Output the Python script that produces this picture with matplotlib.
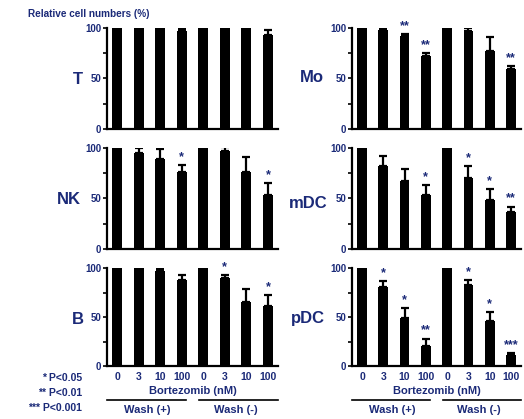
import numpy as np
import matplotlib
matplotlib.use("Agg")
import matplotlib.pyplot as plt

plt.rcParams['font.family'] = ['Liberation Sans', 'DejaVu Sans']
plt.rcParams['font.weight'] = 'bold'

NAVY = '#1b2a78'

doses = ['0', '3', '10', '100', '0', '3', '10', '100']

# relative cell numbers (%), mean and upper error
T_mean = [100, 100, 100, 97, 100, 100, 100, 93]
T_err = [1, 1, 1, 2, 1, 1, 1, 5]
T_sig = ['', '', '', '', '', '', '', '']

Mo_mean = [100, 98, 92, 72, 100, 97, 77, 59]
Mo_err = [0, 2, 2, 3, 0, 3, 14, 3]
Mo_sig = ['', '', '**', '**', '', '', '', '**']

NK_mean = [100, 95, 89, 76, 100, 97, 76, 53]
NK_err = [0, 5, 10, 7, 0, 4, 15, 12]
NK_sig = ['', '', '', '*', '', '', '', '*']

mDC_mean = [100, 82, 67, 53, 100, 70, 49, 37]
mDC_err = [0, 10, 12, 10, 0, 12, 10, 5]
mDC_sig = ['', '', '', '*', '', '*', '*', '**']

B_mean = [100, 100, 97, 88, 100, 90, 65, 61]
B_err = [0, 1, 2, 5, 0, 3, 14, 11]
B_sig = ['', '', '', '', '', '*', '', '*']

pDC_mean = [100, 81, 49, 20, 100, 83, 46, 11]
pDC_err = [0, 6, 10, 8, 0, 5, 9, 2]
pDC_sig = ['', '*', '*', '**', '', '*', '*', '***']

panels = [
    ('T', T_mean, T_err, T_sig),
    ('Mo', Mo_mean, Mo_err, Mo_sig),
    ('NK', NK_mean, NK_err, NK_sig),
    ('mDC', mDC_mean, mDC_err, mDC_sig),
    ('B', B_mean, B_err, B_sig),
    ('pDC', pDC_mean, pDC_err, pDC_sig),
]

fig = plt.figure(figsize=(5.24, 4.19), dpi=100)
W, H = 524.0, 419.0

# axes boxes in pixels: (left, top, right, bottom)
cols = [(107, 278), (352, 521)]
rows = [(28, 129), (148, 249), (268, 366)]
label_pos = [(78, 80), (312, 78), (69, 200), (308, 203), (78, 320), (308, 318)]

x = np.arange(8)
for i, (name, mean, err, sig) in enumerate(panels):
    c0, c1 = cols[i % 2]
    r0, r1 = rows[i // 2]
    ax = fig.add_axes([c0 / W, 1 - r1 / H, (c1 - c0) / W, (r1 - r0) / H])
    ax.bar(x, mean, width=0.46, color='black')
    ax.errorbar(x, mean, yerr=[np.zeros(8), err], fmt='none', ecolor='black',
                elinewidth=1.6, capsize=3, capthick=1.6)
    for xi, m, e, s in zip(x, mean, err, sig):
        if s:
            ax.text(xi, m + e + 2, s, ha='center', va='bottom', color=NAVY,
                    fontsize=9, fontweight='bold')
    ax.set_xlim(-0.47, 7.47)
    ax.set_ylim(0, 100)
    ax.set_yticks([0, 50, 100])
    ax.set_yticks([25, 75], minor=True)
    ax.tick_params(axis='y', which='both', direction='out', length=3, width=1.2,
                   labelsize=7, labelcolor=NAVY, pad=1)
    for sp in ['top', 'right']:
        ax.spines[sp].set_visible(False)
    for sp in ['left', 'bottom']:
        ax.spines[sp].set_linewidth(1.6)
    if i // 2 == 2:
        ax.set_xticks(x)
        ax.set_xticklabels(doses)
        ax.tick_params(axis='x', length=0, labelsize=7.5, labelcolor=NAVY, pad=4)
        tr = ax.get_xaxis_transform()
        ax.text(3.5, -0.26, 'Bortezomib (nM)', transform=tr, ha='center',
                va='center', color=NAVY, fontsize=8)
        ax.plot([-0.45, 3.2], [-0.35, -0.35], transform=tr, color='black',
                lw=1.2, clip_on=False)
        ax.plot([3.8, 7.45], [-0.35, -0.35], transform=tr, color='black',
                lw=1.2, clip_on=False)
        ax.text(1.4, -0.45, 'Wash (+)', transform=tr, ha='center',
                va='center', color=NAVY, fontsize=8)
        ax.text(5.5, -0.45, 'Wash (-)', transform=tr, ha='center',
                va='center', color=NAVY, fontsize=8)
    else:
        ax.set_xticks([])
    lx, ly = label_pos[i]
    fig.text(lx / W, 1 - ly / H, name, ha='center', va='center', color=NAVY,
             fontsize=12, fontweight='bold')

fig.text(28 / W, 1 - 14 / H, 'Relative cell numbers (%)', ha='left', va='center',
         color=NAVY, fontsize=7.2, fontweight='bold')

legend_lines = ['* P<0.05', '** P<0.01', '*** P<0.001']
for k, t in enumerate(legend_lines):
    fig.text(82 / W, 1 - (378 + 15 * k) / H, t, ha='right', va='center',
             color=NAVY, fontsize=7.5, fontweight='bold')

fig.savefig('out.png', dpi=100)
